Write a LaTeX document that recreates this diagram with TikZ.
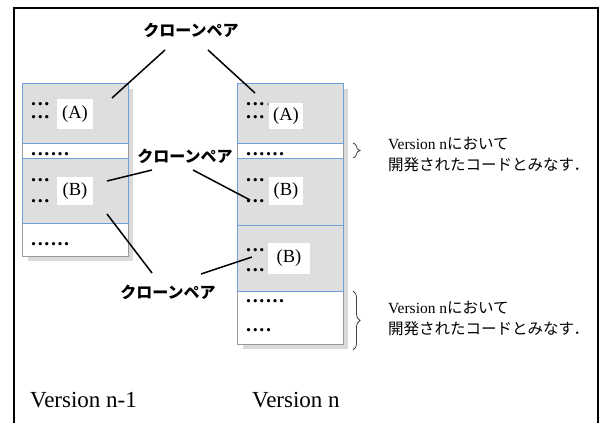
\documentclass[tikz,border=0pt]{standalone}
\usepackage{fontspec}
\setmainfont{Liberation Serif}
\newfontfamily\jp{Noto Sans CJK JP}
\usetikzlibrary{decorations.pathreplacing}
\definecolor{segblue}{HTML}{6F9FD8}
\definecolor{segfill}{HTML}{DEDEDE}
\definecolor{shadowc}{HTML}{DADADA}
\definecolor{boxline}{HTML}{9A9A9A}
\newcommand\dt{\makebox[6.6pt][l]{.}}
\begin{document}
\begin{tikzpicture}[x=1pt,y=-1pt,
  seg/.style={draw=segblue, fill=segfill, line width=1pt},
  outerbox/.style={draw=boxline, fill=white, line width=1pt},
  shadow/.style={fill=shadowc, draw=none},
  lbl/.style={fill=white, inner sep=0pt, minimum width=36pt, minimum height=30pt, font=\fontsize{18.5}{18.5}\selectfont},
  dotrow/.style={anchor=base west, inner sep=0pt, text height=3pt, text depth=0pt, font=\fontsize{20}{20}\selectfont\bfseries},
  pairlbl/.style={inner sep=0pt, font=\jp\bfseries\fontsize{16}{16}\selectfont},
  conn/.style={line width=1.5pt, black},
  note/.style={anchor=base west, inner sep=0pt, font=\fontsize{15.5}{15.5}\selectfont},
  ver/.style={anchor=base west, inner sep=0pt, font=\fontsize{23}{23}\selectfont},
  bracec/.style={draw=black!75, line width=0.8pt, decorate, decoration={brace, amplitude=7pt}}
]
\useasboundingbox (0,0) rectangle (605,423);
% frame
\draw[line width=1.6pt] (14,423) -- (14,8) -- (598,8) -- (598,423);

% left box (Version n-1)
\fill[shadow] (28,89) rectangle (133,261);
\draw[outerbox] (22,83) rectangle (128,256);
\draw[seg] (22,83) rectangle (128,143);
\draw[seg] (22,158) rectangle (128,223);

% right box (Version n)
\fill[shadow] (243,89) rectangle (348,349);
\draw[outerbox] (237,83) rectangle (343,344);
\draw[seg] (237,83) rectangle (343,143);
\draw[seg] (237,158) rectangle (343,225);
\draw[seg] (237,225) rectangle (343,291);

% dots, left
\node[dotrow] (ld1) at (31,105) {\dt\dt\dt};
\node[dotrow] (ld2) at (31,118) {\dt\dt\dt};
\node[dotrow] (ld3) at (31,155) {\dt\dt\dt\dt\dt\dt};
\node[dotrow] (ld4) at (31,181) {\dt\dt\dt};
\node[dotrow] (ld5) at (31,202) {\dt\dt\dt};
\node[dotrow] (ld6) at (31,245) {\dt\dt\dt\dt\dt\dt};
% dots, right
\node[dotrow] (rd1) at (246,105) {\dt\dt\dt\textcolor{gray}{\mdseries\dt\dt\dt\dt}};
\node[dotrow] (rd2) at (246,118) {\dt\dt\dt};
\node[dotrow] (rd3) at (246,155) {\dt\dt\dt\dt\dt\dt};
\node[dotrow] (rd4) at (246,181) {\dt\dt\dt};
\node[dotrow] (rd5) at (246,202) {\dt\dt\dt};
\node[dotrow] (rd6) at (246,251) {\dt\dt\dt};
\node[dotrow] (rd7) at (246,271) {\dt\dt\dt};
\node[dotrow] (rd8) at (246,302) {\dt\dt\dt\dt\dt\dt};
\node[dotrow] (rd9) at (246,331) {\dt\dt\dt\dt};

% label boxes
\node[lbl] (lA) at (75,114) {(A)};
\node[lbl, minimum height=28pt] (lB) at (75,191) {(B)};
\node[lbl, minimum width=34pt, minimum height=26pt] (rA) at (286,116) {(A)};
\node[lbl, minimum width=34pt, minimum height=28pt] (rB1) at (286,191) {(B)};
\node[lbl, minimum width=42pt, minimum height=31pt] (rB2) at (289,258) {(B)};

% clone pair labels
\node[pairlbl] (cp1) at (191,30) {クローンペア};
\node[pairlbl] (cp2) at (185,156) {クローンペア};
\node[pairlbl] (cp3) at (168,292) {クローンペア};

% connector end points
\coordinate (c1s) at (165,50);  \coordinate (c1e) at (112,98);
\coordinate (c2s) at (208,50);  \coordinate (c2e) at (255,93);
\coordinate (c3s) at (152,170); \coordinate (c3e) at (107,181);
\coordinate (c4s) at (193,170); \coordinate (c4e) at (250,200);
\coordinate (c5s) at (152,273); \coordinate (c5e) at (107,214);
\coordinate (c6s) at (201,274); \coordinate (c6e) at (252,257);
\draw[conn] (c1s) -- (c1e);
\draw[conn] (c2s) -- (c2e);
\draw[conn] (c3s) -- (c3e);
\draw[conn] (c4s) -- (c4e);
\draw[conn] (c5s) -- (c5e);
\draw[conn] (c6s) -- (c6e);

% braces
\coordinate (b1t) at (353,143); \coordinate (b1b) at (353,158);
\coordinate (b2t) at (353,291); \coordinate (b2b) at (353,350);
\draw[bracec] (b1t) -- (b1b);
\draw[bracec] (b2t) -- (b2b);

% notes
\node[note] (n1a) at (388,149) {Version n{\jp において}};
\node[note] (n1b) at (388,170) {\jp 開発されたコードとみなす．};
\node[note] (n2a) at (388,313) {Version n{\jp において}};
\node[note] (n2b) at (388,334) {\jp 開発されたコードとみなす．};

% version labels
\node[ver] (v1) at (30,407) {Version n-1};
\node[ver] (v2) at (252,407) {Version n};
\end{tikzpicture}
\end{document}
